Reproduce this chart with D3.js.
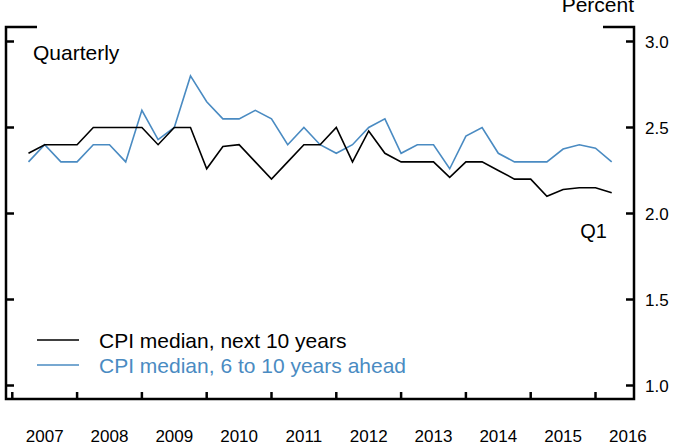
<!DOCTYPE html>
<html><head><meta charset="utf-8">
<script src="https://cdn.jsdelivr.net/npm/d3@7"></script>
<style>body{margin:0;background:#fff}svg{display:block;font-family:"Liberation Sans",Arial,sans-serif}</style>
</head><body>
<svg id="c" width="673" height="448"></svg>
<script>
const quarters = [];
for (let y = 2007; y <= 2016; y++) for (let q = 1; q <= 4; q++) if (!(y === 2016 && q > 1)) quarters.push(y + "Q" + q);
const next10 = [2.35,2.40,2.40,2.40,2.50,2.50,2.50,2.50,2.40,2.50,2.50,2.26,2.39,2.40,2.30,2.20,2.30,2.40,2.40,2.50,2.30,2.48,2.35,2.30,2.30,2.30,2.21,2.30,2.30,2.25,2.20,2.20,2.10,2.14,2.15,2.15,2.12];
const sixTo10 = [2.30,2.40,2.30,2.30,2.40,2.40,2.30,2.60,2.43,2.50,2.80,2.65,2.55,2.55,2.60,2.55,2.40,2.50,2.40,2.35,2.40,2.50,2.55,2.35,2.40,2.40,2.26,2.45,2.50,2.35,2.30,2.30,2.30,2.375,2.40,2.38,2.30];
const yTicks = [1.0, 1.5, 2.0, 2.5, 3.0];
const years = [2007,2008,2009,2010,2011,2012,2013,2014,2015,2016];
const seriesNames = ["CPI median, next 10 years", "CPI median, 6 to 10 years ahead"];
const colors = ["#000000", "#4a8bc2"];

const svg = d3.select("#c");
const x = d3.scaleLinear().domain([2006.903, 2016.594]).range([6, 634]);
const y = d3.scaleLinear().domain([1.0, 3.0]).range([385.5, 41.5]);
const qx = s => { const yr = +s.slice(0,4), q = +s.slice(5); return yr + q/4; };

// frame
const axis = svg.append("g").attr("stroke","#000").attr("stroke-width",2.5).attr("fill","none");
axis.append("path").attr("d", `M37,27H6V399H634V27H603`);
yTicks.forEach(v => {
  axis.append("line").attr("x1",6).attr("x2",14).attr("y1",y(v)).attr("y2",y(v));
  axis.append("line").attr("x1",626).attr("x2",634).attr("y1",y(v)).attr("y2",y(v));
});
years.forEach(yr => {
  axis.append("line").attr("x1",x(yr)).attr("x2",x(yr)).attr("y1",399).attr("y2",392);
});

// tick labels
const txt = svg.append("g").attr("fill","#000").attr("font-size",17);
yTicks.forEach(v => {
  txt.append("text").attr("x",645).attr("y",y(v)+6.5).text(v.toFixed(1));
});
years.forEach(yr => {
  txt.append("text").attr("x",x(yr+0.5)).attr("y",442).attr("text-anchor","middle").text(yr);
});

svg.append("text").attr("x",634).attr("y",12).attr("text-anchor","end").attr("font-size",21).text("Percent");
svg.append("text").attr("x",33).attr("y",59.5).attr("font-size",21).text("Quarterly");
svg.append("text").attr("x",607).attr("y",237.5).attr("text-anchor","end").attr("font-size",20).text("Q1");

const line = d3.line().x((d,i) => x(qx(quarters[i]))).y(d => y(d));
[sixTo10, next10].forEach((s, k) => {
  svg.append("path").datum(s).attr("d", line).attr("fill","none")
    .attr("stroke", k === 0 ? colors[1] : colors[0]).attr("stroke-width",1.6).attr("stroke-linejoin","miter");
});

// legend
seriesNames.forEach((n, i) => {
  const ly = 340 + i*25;
  svg.append("line").attr("x1",37).attr("x2",79).attr("y1",ly).attr("y2",ly).attr("stroke",colors[i]).attr("stroke-width",1.6);
  svg.append("text").attr("x",99).attr("y",ly+7.5).attr("font-size",21).attr("fill",colors[i]).text(n);
});
</script>
</body></html>
